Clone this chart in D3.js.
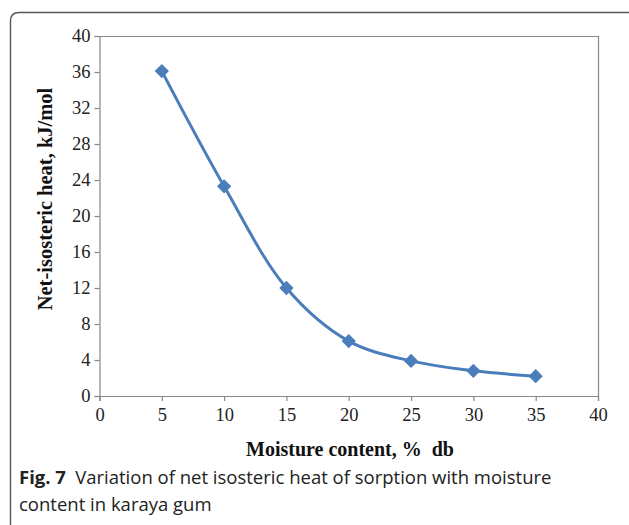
<!DOCTYPE html>
<html><head><meta charset="utf-8">
<script src="https://cdn.jsdelivr.net/npm/d3@7"></script>
<style>body{margin:0;background:#fff}svg{display:block}</style>
</head><body>
<svg id="c" width="629" height="525"></svg>
<script>
const moisture = [5, 10, 15, 20, 25, 30, 35];
const heat = [36.1, 23.3, 12.0, 6.1, 3.9, 2.8, 2.2];
const xTicks = [0, 5, 10, 15, 20, 25, 30, 35, 40];
const yTicks = [0, 4, 8, 12, 16, 20, 24, 28, 32, 36, 40];
const xTitle = "Moisture content, %\u00a0 db";
const yTitle = "Net-isosteric heat, kJ/mol";
const captionBold = "Fig. 7";
const captionLines = ["Variation of net isosteric heat of sorption with moisture", "content in karaya gum"];

const svg = d3.select("#c");
const L = 99.5, R = 598, T = 36, B = 396;
const x = d3.scaleLinear().domain([0, 40]).range([L, R]);
const y = d3.scaleLinear().domain([0, 40]).range([B, T]);

// outer rounded box
svg.append("path")
  .attr("d", "M10.5,535 L10.5,21 Q10.5,12.5 19,12.5 L640,12.5")
  .attr("fill", "none").attr("stroke", "#555").attr("stroke-width", 1.4);

// plot frame (top and right)
svg.append("path")
  .attr("d", `M${L},${T+0.5} L${R+0.5},${T+0.5} L${R+0.5},${B}`)
  .attr("fill", "none").attr("stroke", "#888").attr("stroke-width", 1.2);

const fontT = "'Liberation Serif', 'Times New Roman', serif";

const xAxis = svg.append("g").attr("transform", `translate(0,${B})`)
  .call(d3.axisBottom(x).tickValues(xTicks).tickSize(5).tickPadding(7));
const yAxis = svg.append("g").attr("transform", `translate(${L},0)`)
  .call(d3.axisLeft(y).tickValues(yTicks).tickSize(5).tickPadding(4));
[xAxis, yAxis].forEach(a => {
  a.select(".domain").attr("stroke", "#888").attr("stroke-width", 1.2);
  a.selectAll(".tick line").attr("stroke", "#888").attr("stroke-width", 1.2);
  a.selectAll(".tick text").attr("font-family", fontT).attr("font-size", 18.5).attr("fill", "#222");
});

// line
const line = d3.line().x((d, i) => x(moisture[i])).y(d => y(d)).curve(d3.curveCatmullRom.alpha(0.5));
svg.append("path").datum(heat).attr("d", line)
  .attr("fill", "none").attr("stroke", "#4a7ebb").attr("stroke-width", 3);

svg.selectAll(".pt").data(heat).enter().append("path")
  .attr("class", "pt")
  .attr("transform", (d, i) => `translate(${x(moisture[i])},${y(d)})`)
  .attr("d", d3.symbol().type(d3.symbolDiamond2).size(130))
  .attr("fill", "#4a7ebb");

// axis titles
svg.append("text").attr("x", 350).attr("y", 456).attr("text-anchor", "middle")
  .attr("font-family", fontT).attr("font-weight", "bold").attr("font-size", 20).attr("fill", "#111")
  .text(xTitle);
svg.append("text").attr("transform", "translate(52,199) rotate(-90)").attr("text-anchor", "middle")
  .attr("font-family", fontT).attr("font-weight", "bold").attr("font-size", 20.5).attr("fill", "#111")
  .text(yTitle);

// caption
const cap = svg.append("text").attr("x", 19).attr("y", 484)
  .attr("font-family", "'Open Sans', sans-serif").attr("font-size", 18.5).attr("fill", "#222");
cap.append("tspan").attr("font-weight", "bold").text(captionBold);
cap.append("tspan").text("\u2002" + captionLines[0]);
svg.append("text").attr("x", 19).attr("y", 511)
  .attr("font-family", "'Open Sans', sans-serif").attr("font-size", 18.5).attr("fill", "#222")
  .text(captionLines[1]);
</script>
</body></html>
